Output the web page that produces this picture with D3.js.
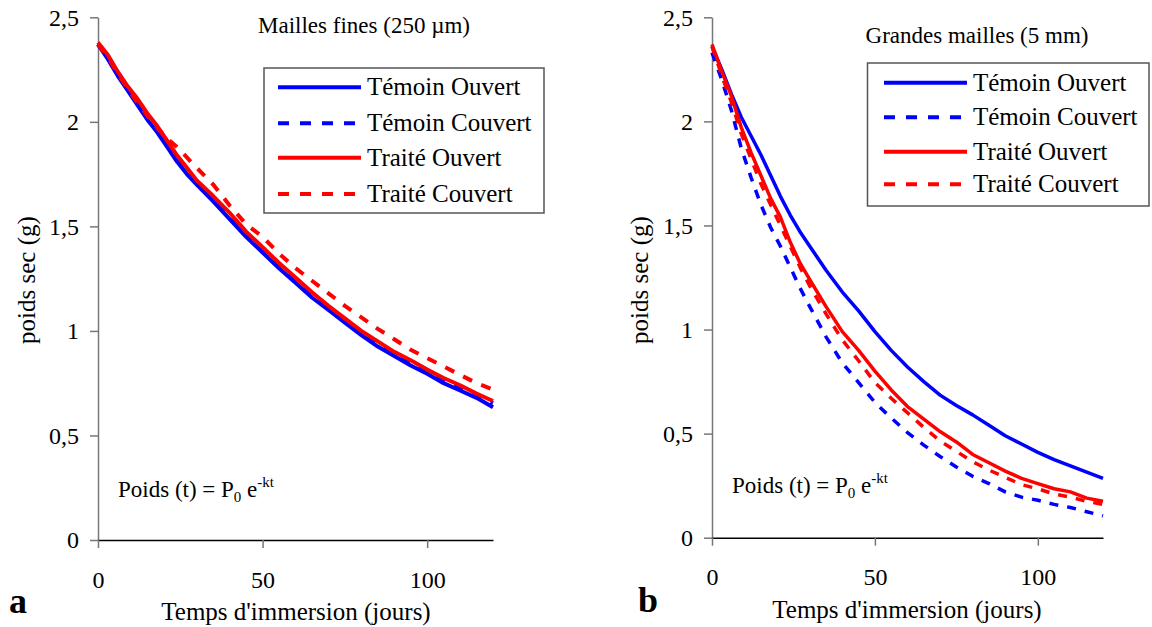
<!DOCTYPE html>
<html><head><meta charset="utf-8">
<script src="https://cdn.jsdelivr.net/npm/d3@7"></script>
<style>
html,body{margin:0;padding:0;background:#fff;}
svg{display:block;}
svg text{font-family:"Liberation Serif","Times New Roman",Times,"DejaVu Serif",serif !important;}
</style></head>
<body><svg id="chart" width="1152" height="627"></svg>
<script>
// ---------- data ----------
const days = [0,3,6,9,12,15,18,21,24,27,30,35,40,45,50,55,60,65,70,75,80,85,90,95,100,105,110,115,120];
const seriesNames = ["Témoin Ouvert","Témoin Couvert","Traité Ouvert","Traité Couvert"];
const seriesColors = ["#0000ff","#0000ff","#ff0000","#ff0000"];
const seriesDashed = [false,true,false,true];

// panel a : mailles fines (250 µm)
const finesTemoinOuvert  = [2.37,2.30,2.22,2.15,2.08,2.01,1.95,1.88,1.81,1.75,1.70,1.62,1.535,1.45,1.375,1.30,1.23,1.16,1.10,1.04,0.98,0.925,0.88,0.835,0.795,0.75,0.715,0.68,0.635];
const finesTemoinCouvert = [2.37,2.31,2.23,2.16,2.10,2.03,1.97,1.90,1.83,1.77,1.71,1.63,1.55,1.46,1.39,1.315,1.245,1.175,1.11,1.05,0.99,0.94,0.89,0.85,0.805,0.765,0.73,0.69,0.655];
const finesTraiteOuvert  = [2.38,2.32,2.24,2.17,2.11,2.04,1.98,1.91,1.84,1.78,1.72,1.645,1.565,1.475,1.40,1.325,1.255,1.185,1.12,1.06,1.00,0.95,0.90,0.86,0.815,0.775,0.74,0.70,0.665];
const finesTraiteCouvert = [2.37,2.31,2.23,2.16,2.09,2.03,1.97,1.92,1.88,1.83,1.78,1.70,1.60,1.51,1.45,1.37,1.30,1.24,1.18,1.12,1.065,1.01,0.96,0.91,0.87,0.83,0.79,0.75,0.72];

// panel b : grandes mailles (5 mm)
const grandesTemoinOuvert  = [2.36,2.25,2.13,2.02,1.93,1.84,1.74,1.64,1.55,1.47,1.40,1.285,1.18,1.09,0.99,0.90,0.82,0.75,0.685,0.635,0.59,0.54,0.49,0.45,0.41,0.375,0.345,0.315,0.285];
const grandesTemoinCouvert = [2.33,2.20,2.05,1.87,1.73,1.60,1.49,1.40,1.30,1.20,1.11,0.965,0.84,0.745,0.65,0.575,0.505,0.445,0.39,0.34,0.295,0.26,0.22,0.195,0.18,0.16,0.145,0.125,0.105];
const grandesTraiteOuvert  = [2.37,2.24,2.12,1.97,1.85,1.74,1.63,1.54,1.42,1.32,1.24,1.11,0.99,0.90,0.80,0.71,0.63,0.57,0.51,0.46,0.40,0.36,0.32,0.285,0.26,0.235,0.22,0.19,0.175];
const grandesTraiteCouvert = [2.36,2.22,2.09,1.94,1.82,1.70,1.60,1.50,1.40,1.30,1.21,1.075,0.95,0.85,0.745,0.67,0.60,0.53,0.465,0.415,0.365,0.325,0.29,0.255,0.235,0.21,0.195,0.175,0.16];

const yTicks = [0,0.5,1,1.5,2,2.5];
const xTicks = [0,50,100];
const xTitle = "Temps d'immersion (jours)";
const yTitle = "poids sec (g)";

// ---------- drawing ----------
const svg = d3.select("#chart");
const fmt = d => d3.format(".1~f")(d).replace(".", ",");

function panel(cfg){
  const x = d3.scaleLinear().domain([0,120]).range(cfg.xr);
  const y = d3.scaleLinear().domain([0,2.5]).range(cfg.yr);
  const g = svg.append("g");

  const ya = g.append("g").attr("transform",`translate(${cfg.xr[0]},0)`)
    .call(d3.axisLeft(y).tickValues(yTicks).tickFormat(fmt).tickSize(8).tickPadding(11).tickSizeOuter(0));
  ya.select(".domain").attr("stroke","#777").attr("stroke-width",1.5);
  ya.selectAll(".tick line").attr("stroke","#777").attr("stroke-width",1.5);
  ya.selectAll(".tick text").attr("font-size",24).attr("fill","#000").attr("dy","0.33em");

  const xa = g.append("g").attr("transform",`translate(0,${cfg.yr[0]})`)
    .call(d3.axisBottom(x).tickValues(xTicks).tickSize(8).tickSizeOuter(0));
  xa.select(".domain").attr("stroke","#000").attr("stroke-width",1.5);
  xa.selectAll(".tick line").attr("stroke","#777").attr("stroke-width",1.5);
  xa.selectAll(".tick text").attr("font-size",24).attr("fill","#000")
    .attr("y", cfg.xLabBase - cfg.yr[0]).attr("dy",0);

  const line = d3.line().x((d,i)=>x(days[i])).y(d=>y(d));
  cfg.series.forEach((s,i)=>{
    g.append("path").datum(s).attr("d",line).attr("fill","none")
      .attr("stroke",seriesColors[i]).attr("stroke-width",cfg.sw)
      .attr("stroke-linejoin","round")
      .attr("stroke-dasharray",seriesDashed[i]?cfg.dash:null);
  });

  const L = cfg.legend;
  g.append("rect").attr("x",L.x0).attr("y",L.y0).attr("width",L.x1-L.x0).attr("height",L.y1-L.y0)
    .attr("fill","#fff").attr("stroke","#555").attr("stroke-width",1.5);
  seriesNames.forEach((n,i)=>{
    const yy = L.rows[i];
    g.append("line").attr("x1",L.lx0).attr("x2",L.lx1).attr("y1",yy).attr("y2",yy)
      .attr("stroke",seriesColors[i]).attr("stroke-width",4)
      .attr("stroke-dasharray",seriesDashed[i]?"11,11":null);
    g.append("text").attr("x",L.tx).attr("y",yy+8).attr("font-size",25).text(n);
  });

  g.append("text").attr("x",cfg.title.x).attr("y",cfg.title.y).attr("text-anchor","middle")
    .attr("font-size",23).text(cfg.title.text);

  const eq = g.append("text").attr("x",cfg.eq.x).attr("y",cfg.eq.y).attr("font-size",23);
  eq.append("tspan").text("Poids (t) = P");
  eq.append("tspan").attr("font-size",15).attr("dy",5).text("0");
  eq.append("tspan").attr("dy",-5).text(" e");
  eq.append("tspan").attr("font-size",15).attr("dy",-10).text("-kt");

  g.append("text").attr("x",cfg.xt.x).attr("y",cfg.xt.y).attr("text-anchor","middle")
    .attr("font-size",25).text(xTitle);
  g.append("text").attr("transform",`translate(${cfg.yt.x},${cfg.yt.y}) rotate(-90)`)
    .attr("text-anchor","middle").attr("font-size",25).text(yTitle);

  g.append("text").attr("x",cfg.letter.x).attr("y",cfg.letter.y).attr("font-size",36)
    .attr("font-weight","bold").text(cfg.letter.text);
}

panel({
  xr:[98,493], yr:[540,17.3], xLabBase:588, sw:4, dash:"10,10",
  series:[finesTemoinOuvert,finesTemoinCouvert,finesTraiteOuvert,finesTraiteCouvert],
  legend:{x0:264,x1:544,y0:68,y1:213,lx0:278,lx1:361,tx:367,rows:[87.3,123.3,157.7,194]},
  title:{x:364,y:33,text:"Mailles fines (250 µm)"},
  eq:{x:118,y:497},
  xt:{x:296,y:620}, yt:{x:35,y:280},
  letter:{x:9,y:613,text:"a"}
});
panel({
  xr:[712,1103], yr:[537.7,17.3], xLabBase:585, sw:3.5, dash:"9,9",
  series:[grandesTemoinOuvert,grandesTemoinCouvert,grandesTraiteOuvert,grandesTraiteCouvert],
  legend:{x0:867.5,x1:1149,y0:63,y1:206,lx0:884,lx1:967,tx:973,rows:[82.7,117.3,151.7,184.3]},
  title:{x:977,y:43,text:"Grandes mailles (5 mm)"},
  eq:{x:732,y:493},
  xt:{x:907,y:618}, yt:{x:648,y:280},
  letter:{x:638,y:612,text:"b"}
});
</script></body></html>
